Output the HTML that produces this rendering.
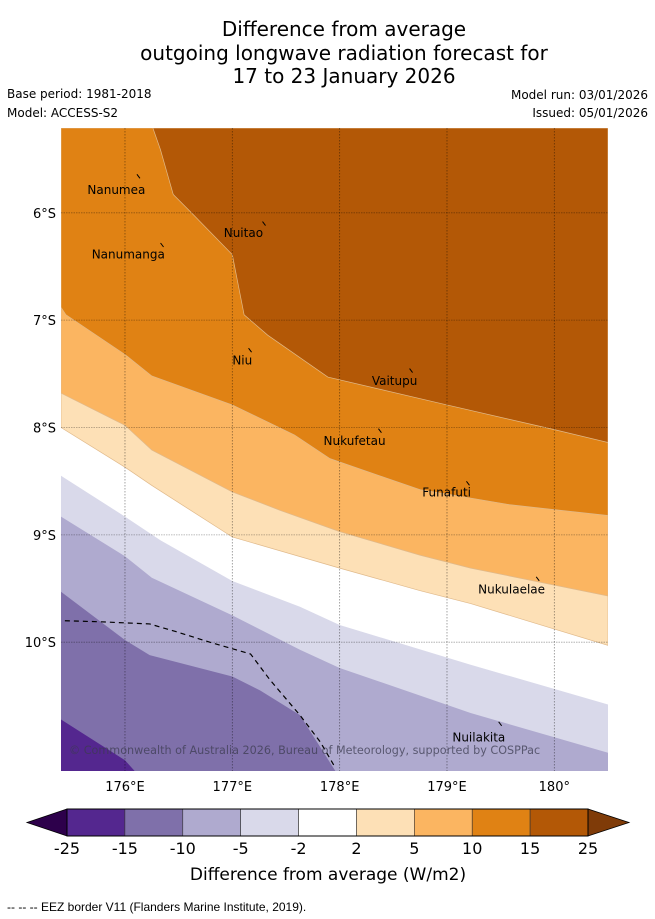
<!DOCTYPE html>
<html><head><meta charset="utf-8"><style>
body{margin:0;background:#fff;}
svg{display:block;font-family:"DejaVu Sans","Liberation Sans",sans-serif;}
</style></head><body>
<svg id="chart" width="655" height="919" viewBox="0 0 655 919">
<text x="344" y="36" font-size="20" text-anchor="middle">Difference from average</text>
<text x="344" y="60" font-size="20" text-anchor="middle">outgoing longwave radiation forecast for</text>
<text x="344" y="83" font-size="20" text-anchor="middle">17 to 23 January 2026</text>
<text x="7" y="98" font-size="12">Base period: 1981-2018</text>
<text x="7" y="117" font-size="12">Model: ACCESS-S2</text>
<text x="648" y="99" font-size="12" text-anchor="end">Model run: 03/01/2026</text>
<text x="648" y="117" font-size="12" text-anchor="end">Issued: 05/01/2026</text>
<defs><clipPath id="mapclip"><rect x="61" y="128" width="547" height="643"/></clipPath></defs>
<g id="map" clip-path="url(#mapclip)"></g>
<g id="axes"></g>
<g id="cbar"></g>
<text x="328" y="880" font-size="17" text-anchor="middle">Difference from average (W/m2)</text>
<text x="7" y="911" font-size="12" font-family="'Liberation Sans Narrow','Liberation Sans',sans-serif">--  --  -- EEZ border V11 (Flanders Marine Institute, 2019).</text>
</svg>
<script>
// Map extent & data
const lonMin=175.404, lonMax=180.5, latTop=5.21, latBot=11.2; // lat in degrees south
const lonTicks=[176,177,178,179,180];
const lonTickLabels=["176°E","177°E","178°E","179°E","180°"];
const latTicks=[6,7,8,9,10];
const latTickLabels=["6°S","7°S","8°S","9°S","10°S"];
const levels=[-25,-15,-10,-5,-2,2,5,10,15,25];
const levelColors=["#54278f","#7f70aa","#afaacf","#d9d9ea","#ffffff","#fde0b6","#fbb561","#e08214","#b35806"];
// contour boundaries (lon, lat S), lower level -> upper level
const b15={lon:[175.404,176,176.09],lat:[10.72,11.1,11.2]};
const b10={lon:[175.404,176,176.23,177,177.26,177.63,177.96],lat:[9.53,9.98,10.12,10.32,10.45,10.68,11.2]};
const b5={lon:[175.404,176,176.25,177,177.63,178,179.22,180.5],lat:[8.83,9.2,9.4,9.75,10.07,10.24,10.66,11.03]};
const b2={lon:[175.404,176,176.33,177,177.63,178,179.22,180.5],lat:[8.45,8.83,9.05,9.43,9.67,9.84,10.21,10.58]};
const bp2={lon:[175.404,176,176.25,177,178,178.75,179.22,180.5],lat:[8.0,8.37,8.54,9.02,9.31,9.52,9.64,10.03]};
const bp5={lon:[175.404,176,176.25,177,177.44,178,178.75,179.22,180.5],lat:[7.68,7.98,8.21,8.60,8.77,8.97,9.19,9.31,9.57]};
const bp10={lon:[175.404,175.45,176,176.25,177,177.58,177.91,178.75,179,179.59,180.5],lat:[6.88,6.95,7.32,7.52,7.79,8.07,8.29,8.58,8.62,8.72,8.82]};
const bp15={lon:[176.26,176.33,176.45,176.61,177,177.11,177.33,177.89,179,180,180.5],lat:[5.21,5.41,5.83,5.99,6.39,6.95,7.14,7.53,7.79,8.02,8.14]};
const eez={lon:[175.44,175.77,176.23,176.47,176.79,177.17,177.35,177.63,177.82,177.96],lat:[9.8,9.81,9.83,9.9,10.0,10.11,10.35,10.68,10.93,11.17]};
const islandNames=["Nanumea","Nuitao","Nanumanga","Niu","Vaitupu","Nukufetau","Funafuti","Nukulaelae","Nuilakita"];
const islandLon=[176.13,177.3,176.35,177.17,178.67,178.38,179.2,179.85,179.5];
const islandLat=[5.66,6.1,6.3,7.28,7.47,8.03,8.52,9.41,10.76];
const labelLon=[175.65,176.92,175.69,177.0,178.3,177.85,178.77,179.29,179.05];
const labelLat=[5.825,6.225,6.425,7.415,7.605,8.165,8.645,9.545,10.925];

const X=lon=>61+(lon-lonMin)/(lonMax-lonMin)*547;
const Y=lat=>128+(lat-latTop)/(latBot-latTop)*643;
const NS="http://www.w3.org/2000/svg";
function mk(tag,attrs,parent){const e=document.createElementNS(NS,tag);for(const k in attrs)e.setAttribute(k,attrs[k]);parent.appendChild(e);return e;}
const map=document.getElementById('map');
const bg=mk('rect',{x:61,y:128,width:547,height:643,fill:levelColors[0]},map);


const bounds=[b15,b10,b5,b2,bp2,bp5,bp10,bp15];
bounds.forEach((b,i)=>{
  const pts=b.lon.map((l,j)=>[X(l),Y(b.lat[j])]);
  const last=b.lat[b.lat.length-1];
  if(last>=latBot-0.01) pts.push([X(lonMax),Y(latBot)]);
  pts.push([X(lonMax),Y(latTop)]);
  if(b.lat[0]>latTop+0.01) pts.push([X(lonMin),Y(latTop)]);
  const p=mk('polygon',{points:pts.map(q=>q.join(',')).join(' '),fill:levelColors[i+1],stroke:i>=4?'#e0b98a':'none','stroke-width':i>=4?0.7:0},map);
  
  
});
// gridlines
lonTicks.forEach((t,i)=>{
  const l=mk('line',{x1:X(t),x2:X(t),y1:128,y2:771,stroke:'rgba(0,0,0,0.45)','stroke-width':0.8,'stroke-dasharray':'1.5,1.5'},map);
  
  
});
latTicks.forEach((t,i)=>{
  const l=mk('line',{x1:61,x2:608,y1:Y(t),y2:Y(t),stroke:'rgba(0,0,0,0.35)','stroke-width':0.8,'stroke-dasharray':'1.5,1'},map);
  
  
});
// EEZ
const ez=mk('polyline',{points:eez.lon.map((l,j)=>X(l)+','+Y(eez.lat[j])).join(' '),fill:'none',stroke:'#000','stroke-width':1.2,'stroke-dasharray':'5,4'},map);


// islands
islandNames.forEach((n,i)=>{
  const m=mk('line',{x1:X(islandLon[i])-2,y1:Y(islandLat[i])-2,x2:X(islandLon[i])+1,y2:Y(islandLat[i])+2,stroke:'#000','stroke-width':1},map);
  
  
  const t=mk('text',{x:X(labelLon[i]),y:Y(labelLat[i]),'font-size':12,fill:'#000'},map);
  t.textContent=n;
  
  
});
const cp=mk('text',{x:69,y:754,'font-size':11.2,fill:'rgba(60,60,80,0.75)'},map);
cp.textContent='© Commonwealth of Australia 2026, Bureau of Meteorology, supported by COSPPac';


// axes labels
const axes=document.getElementById('axes');
lonTicks.forEach((t,i)=>{
  const tx=mk('text',{x:X(t),y:791,'font-size':13,'text-anchor':'middle'},axes);
  tx.textContent=lonTickLabels[i];
  
  
});
latTicks.forEach((t,i)=>{
  const tx=mk('text',{x:56,y:Y(t)+5,'font-size':13,'text-anchor':'end'},axes);
  tx.textContent=latTickLabels[i];
  
  
});
// colorbar
const cb=document.getElementById('cbar');
const cx0=67,cx1=588,cy0=809,cy1=836,nb=levels.length-1,bw=(cx1-cx0)/nb;
const lt=mk('polygon',{points:`${cx0},${cy0} 27,${(cy0+cy1)/2} ${cx0},${cy1}`,fill:'#2d004b',stroke:'#000','stroke-width':0.8},cb);


const rt=mk('polygon',{points:`${cx1},${cy0} 629,${(cy0+cy1)/2} ${cx1},${cy1}`,fill:'#7f3b08',stroke:'#000','stroke-width':0.8},cb);


levelColors.forEach((c,i)=>{
  const r=mk('rect',{x:cx0+i*bw,y:cy0,width:bw,height:cy1-cy0,fill:c,stroke:'#333','stroke-width':0.6},cb);
  
  
});
levels.forEach((v,i)=>{
  const t=mk('text',{x:cx0+i*bw,y:854,'font-size':16,'text-anchor':'middle'},cb);
  t.textContent=v;
  
  
});
mk('rect',{x:cx0,y:cy0,width:cx1-cx0,height:cy1-cy0,fill:'none',stroke:'#000','stroke-width':1},cb);
</script>
</body></html>
